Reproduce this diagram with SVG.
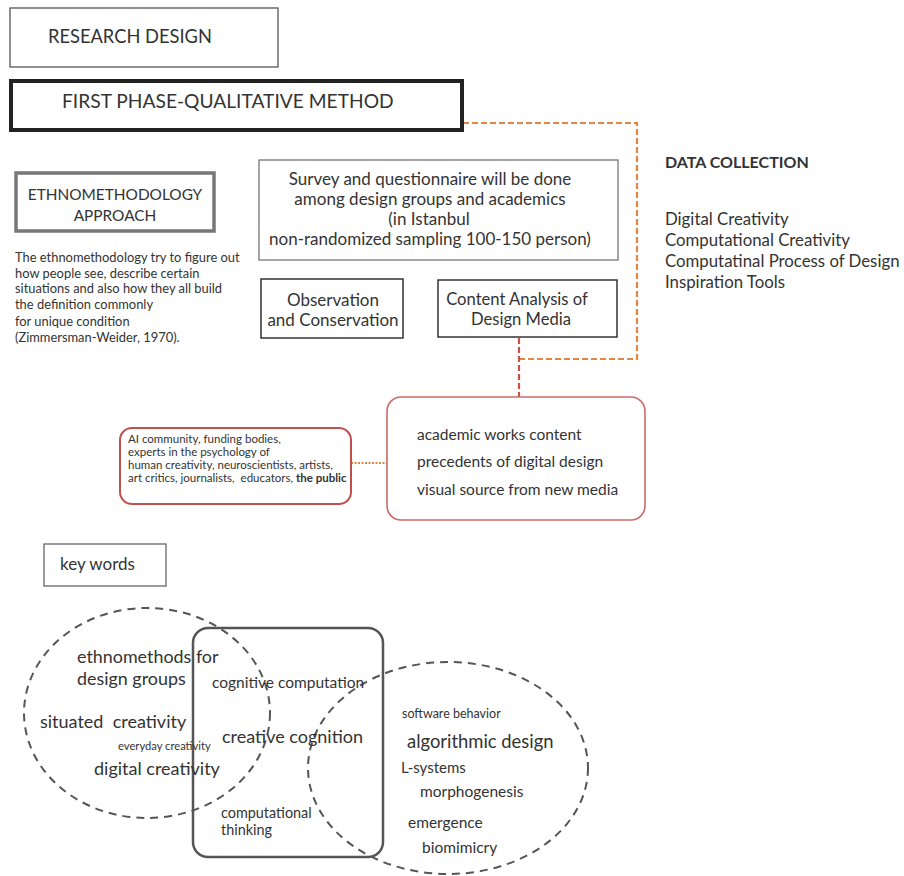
<svg xmlns="http://www.w3.org/2000/svg" width="904" height="876" viewBox="0 0 904 876">
<defs>
<style>
text{font-family:Lato,"Liberation Sans",sans-serif;fill:#333;}
.box{fill:#fff;stroke:#555;stroke-width:1.3;}
.red{fill:#fff;stroke:#cf6a6a;stroke-width:1.6;}
.dash{fill:none;stroke:#e38540;stroke-width:2.2;stroke-dasharray:6 3;}
.kw{fill:none;stroke:#555;stroke-width:2;stroke-dasharray:8 6;}
.c{text-anchor:middle;}
</style>
</defs>
<rect width="904" height="876" fill="#fff"/>

<g id="connectors">
<path class="dash" d="M463,123 H637 V359 H519"/>
<path class="dash" style="stroke:#c9504a" d="M519,338 V397"/>
<path class="dash" style="stroke-dasharray:2 1.5;stroke-width:2" d="M351,463 H387"/>
</g>

<g id="research-design">
<rect class="box" x="10" y="8" width="268" height="59"/>
<text x="48" y="43" font-size="18.3">RESEARCH DESIGN</text>
</g>

<g id="first-phase">
<rect x="11" y="81" width="451" height="49" fill="#fff" stroke="#222" stroke-width="4"/>
<text x="62" y="108" font-size="19.2">FIRST PHASE-QUALITATIVE METHOD</text>
</g>

<g id="ethno">
<rect x="16" y="173" width="198" height="58" fill="#fff" stroke="#777" stroke-width="3.5"/>
<text class="c" x="115" y="200" font-size="15.4">ETHNOMETHODOLOGY</text>
<text class="c" x="115" y="221" font-size="15.4">APPROACH</text>
</g>

<g id="ethno-text" font-size="12.9">
<text x="15" y="262">The ethnomethodology try to figure out</text>
<text x="15" y="278">how people see, describe certain</text>
<text x="15" y="293">situations and also how they all build</text>
<text x="15" y="309">the definition commonly</text>
<text x="15" y="326">for unique condition</text>
<text x="15" y="342">(Zimmersman-Weider, 1970).</text>
</g>

<g id="survey">
<rect class="box" x="259" y="160" width="359" height="100" style="stroke:#777"/>
<text class="c" x="430" y="185" font-size="17">Survey and questionnaire will be done</text>
<text class="c" x="430" y="205" font-size="17">among design groups and academics</text>
<text class="c" x="429" y="225" font-size="17">(in Istanbul</text>
<text class="c" x="430" y="245" font-size="17">non-randomized sampling 100-150 person)</text>
</g>

<g id="observation">
<rect class="box" x="261" y="279" width="142" height="59" style="stroke:#333;stroke-width:1.5"/>
<text class="c" x="333" y="306" font-size="17">Observation</text>
<text class="c" x="333" y="326" font-size="17">and Conservation</text>
</g>

<g id="content-analysis">
<rect class="box" x="438" y="280" width="179" height="57" style="stroke:#333;stroke-width:1.5"/>
<text class="c" x="517" y="305" font-size="16.6">Content Analysis of</text>
<text class="c" x="521" y="325" font-size="16.6">Design Media</text>
</g>

<g id="data-collection">
<text x="665" y="168" font-size="16" font-weight="bold">DATA COLLECTION</text>
<text x="665" y="225" font-size="16.8">Digital Creativity</text>
<text x="665" y="246" font-size="16.8">Computational Creativity</text>
<text x="665" y="267" font-size="16.8">Computatinal Process of Design</text>
<text x="665" y="288" font-size="16.8">Inspiration Tools</text>
</g>

<g id="media-sources">
<rect class="red" x="387" y="397" width="258" height="123" rx="14"/>
<text x="417" y="440" font-size="15.5">academic works content</text>
<text x="417" y="467" font-size="15.5">precedents of digital design</text>
<text x="417" y="495" font-size="15.5">visual source from new media</text>
</g>

<g id="audience">
<rect class="red" x="120" y="428" width="231" height="76" rx="12" style="stroke:#c0504d;stroke-width:2"/>
<text x="128" y="443" font-size="11.5">AI community, funding bodies,</text>
<text x="128" y="456" font-size="11.5">experts in the psychology of</text>
<text x="128" y="469" font-size="11.5">human creativity, neuroscientists, artists,</text>
<text x="128" y="482" font-size="11.5">art critics, journalists,&#160; educators, <tspan font-weight="bold">the public</tspan></text>
</g>

<g id="key-words">
<rect class="box" x="44" y="544" width="122" height="42" style="stroke:#666"/>
<text x="60" y="570" font-size="17">key words</text>
</g>

<g id="keyword-shapes">
<ellipse class="kw" cx="147" cy="713" rx="123" ry="105"/>
<rect x="193" y="628" width="190" height="229" rx="15" fill="none" stroke="#555" stroke-width="2.5"/>
<ellipse class="kw" cx="448" cy="768" rx="140" ry="106"/>
</g>

<g id="keywords-left">
<text x="77" y="663" font-size="17.9">ethnomethods for</text>
<text x="77" y="685" font-size="17.9">design groups</text>
<text x="40" y="728" font-size="18">situated&#160; creativity</text>
<text x="118" y="750" font-size="11.2">everyday creativity</text>
<text x="94" y="775" font-size="18">digital creativity</text>
</g>

<g id="keywords-middle">
<text x="212" y="688" font-size="15.5">cognitive computation</text>
<text x="222" y="743" font-size="18">creative cognition</text>
<text x="221" y="818" font-size="14.4">computational</text>
<text x="221" y="835" font-size="14.4">thinking</text>
</g>

<g id="keywords-right">
<text x="402" y="718" font-size="12.5">software behavior</text>
<text x="407" y="748" font-size="18.4">algorithmic design</text>
<text x="401" y="773" font-size="15">L-systems</text>
<text x="420" y="797" font-size="15.5">morphogenesis</text>
<text x="408" y="828" font-size="15.5">emergence</text>
<text x="422" y="853" font-size="15.5">biomimicry</text>
</g>
</svg>
